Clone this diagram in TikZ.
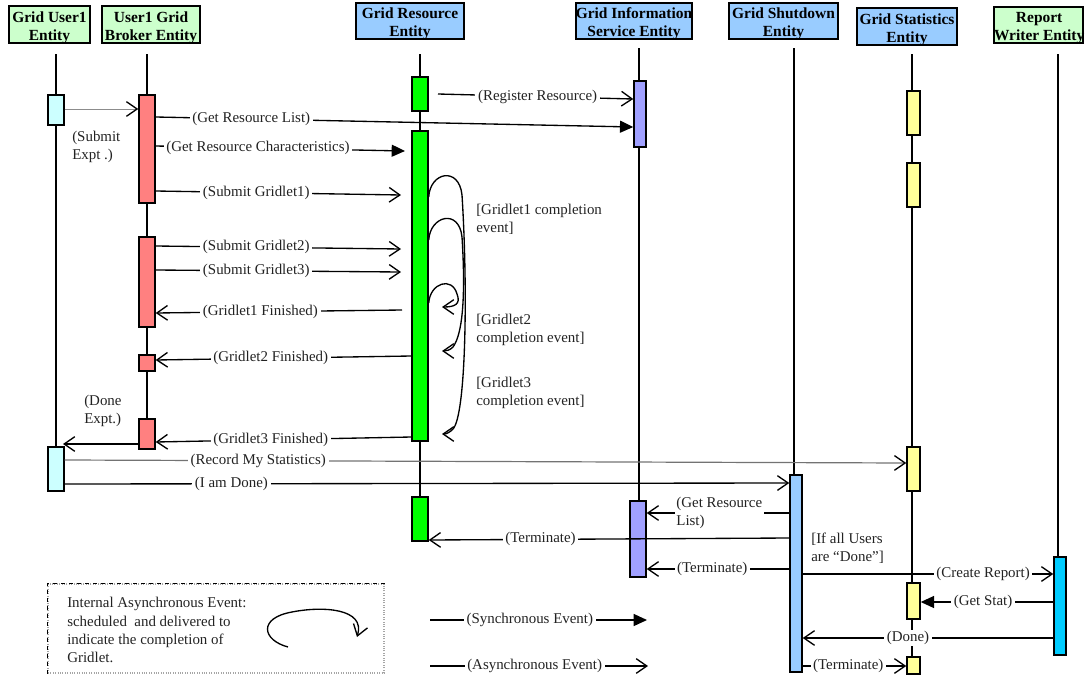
\documentclass[tikz,border=0pt]{standalone}
\usepackage{fontspec}
\setmainfont{Liberation Serif}
\usetikzlibrary{arrows.meta,calc}
\definecolor{hdrgreen}{HTML}{CCFFCC}
\definecolor{hdrblue}{HTML}{99CCFF}
\definecolor{actuser}{HTML}{CCFFFF}
\definecolor{actbroker}{HTML}{FF8080}
\definecolor{actres}{HTML}{00FF00}
\definecolor{actgis}{HTML}{A0A0FF}
\definecolor{actshut}{HTML}{99CCFF}
\definecolor{actstat}{HTML}{FFFF99}
\definecolor{actrep}{HTML}{00CCFF}
\definecolor{txtgray}{HTML}{222222}
\pgfdeclarelayer{bg}
\pgfsetlayers{bg,main}
\begin{document}
\begin{tikzpicture}[x=0.75pt,y=-0.75pt,
  hdr/.style={draw, line width=1.4pt, inner sep=0pt},
  hdrtxt/.style={inner sep=0pt, align=center, font=\fontsize{11.6}{13.5}\selectfont\bfseries},
  act/.style={draw, line width=1.1pt, inner sep=0pt},
  life/.style={line width=1.1pt},
  msg/.style={line width=1pt},
  async/.style={msg, -{Straight Barb[length=8pt,width=11pt,line width=1pt]}},
  sync/.style={msg, -{Triangle[length=10pt,width=9pt]}},
  lab/.style={fill=white, inner xsep=2pt, inner ysep=1pt, text=txtgray, font=\fontsize{11.2}{13}\selectfont},
  txt/.style={inner sep=0pt, text=txtgray, align=left, font=\fontsize{11.2}{13.5}\selectfont},
]
\useasboundingbox (0,0) rectangle (1085,675);

% headers
\node[hdr, fill=hdrgreen, minimum width=60.75pt, minimum height=27.75pt] (h1) at (49.5,24.5) {};
\node[hdr, fill=hdrgreen, minimum width=73.5pt, minimum height=27.75pt] (h2) at (151,24.5) {};
\node[hdr, fill=hdrblue, minimum width=81pt, minimum height=27pt] (h3) at (410,21) {};
\node[hdr, fill=hdrblue, minimum width=87pt, minimum height=27pt] (h4) at (634,21) {};
\node[hdr, fill=hdrblue, minimum width=81.75pt, minimum height=27pt] (h5) at (783.5,21) {};
\node[hdr, fill=hdrblue, minimum width=75pt, minimum height=27.75pt] (h6) at (907,26.5) {};
\node[hdr, fill=hdrgreen, minimum width=66.75pt, minimum height=27pt] (h7) at (1038.5,25) {};
\node[hdrtxt] (h1t) at ([yshift=-2.6pt]h1.center) {Grid User1\\Entity};
\node[hdrtxt] (h2t) at ([yshift=-2.6pt]h2.center) {User1 Grid\\Broker Entity};
\node[hdrtxt] (h3t) at ([yshift=-1.8pt]h3.center) {Grid Resource\\Entity};
\node[hdrtxt] (h4t) at ([yshift=-1.8pt]h4.center) {Grid Information\\Service Entity};
\node[hdrtxt] (h5t) at ([yshift=-1.8pt]h5.center) {Grid Shutdown\\Entity};
\node[hdrtxt] (h6t) at ([yshift=-2.6pt]h6.center) {Grid Statistics\\Entity};
\node[hdrtxt] (h7t) at ([yshift=-2.6pt,xshift=0.5pt]h7.center) {Report\\Writer Entity};

% activations
\node[act, fill=actuser, minimum width=12pt, minimum height=22.5pt] (a1) at (56,110) {};
\node[act, fill=actuser, minimum width=12pt, minimum height=33pt] (a2) at (56,469) {};
\node[act, fill=actbroker, minimum width=12pt, minimum height=81pt] (b1) at (147,149) {};
\node[act, fill=actbroker, minimum width=12pt, minimum height=67.5pt] (b2) at (147,282) {};
\node[act, fill=actbroker, minimum width=12pt, minimum height=12pt] (b3) at (147,363) {};
\node[act, fill=actbroker, minimum width=12pt, minimum height=22.5pt] (b4) at (147,434) {};
\node[act, fill=actres, minimum width=12pt, minimum height=25.5pt] (r1) at (420,94) {};
\node[act, fill=actres, minimum width=12pt, minimum height=232.5pt] (r2) at (420,286) {};
\node[act, fill=actres, minimum width=12pt, minimum height=33pt] (r3) at (420,519) {};
\node[act, fill=actgis, minimum width=9pt, minimum height=49.5pt] (g1) at (640,114) {};
\node[act, fill=actgis, minimum width=12pt, minimum height=57pt] (g2) at (638,539) {};
\node[act, fill=actshut, minimum width=9pt, minimum height=147.75pt] (s1) at (796,573.5) {};
\node[act, fill=actstat, minimum width=9.75pt, minimum height=33pt] (t1) at (913.5,113) {};
\node[act, fill=actstat, minimum width=9.75pt, minimum height=33pt] (t2) at (913.5,185) {};
\node[act, fill=actstat, minimum width=9.75pt, minimum height=33pt] (t3) at (913.5,469) {};
\node[act, fill=actstat, minimum width=9.75pt, minimum height=27pt] (t4) at (913.5,601) {};
\node[act, fill=actstat, minimum width=9.75pt, minimum height=12.75pt] (t5) at (913.5,665.5) {};
\node[act, fill=actrep, minimum width=9pt, minimum height=73.5pt] (w1) at (1060,606) {};

% lifelines
\coordinate (l1) at (56,54);
\coordinate (l2) at (147,54);
\coordinate (l3) at (420,54);
\coordinate (l4) at (639,48);
\coordinate (l5) at (794,48);
\coordinate (l6) at (912,54);
\coordinate (l7) at (1058,54);
\begin{pgfonlayer}{bg}
\draw[life] (l1) -- (l1 |- a2.south);
\draw[life] (l2) -- (l2 |- b4.south);
\draw[life] (l3) -- (l3 |- r3.south);
\draw[life] (l4) -- (l4 |- g2.south);
\draw[life] (l5) -- (l5 |- s1.south);
\draw[life] (l6) -- (l6 |- t5.south);
\draw[life] (l7) -- (l7 |- w1.south);
\end{pgfonlayer}

% free ends
\coordinate (grcEnd) at (405,151);
\coordinate (sg1End) at (401,195);
\coordinate (sg2End) at (401,249);
\coordinate (sg3End) at (401,272);
\coordinate (gf1Start) at (402,310);
\coordinate (rrStart) at (438,94);
\coordinate (deEnd) at (63,444);

% messages
\draw[black!45, line width=0.7pt, -{Straight Barb[length=8pt,width=11pt,line width=1pt,color=black]}] (a1.east |- 0,109) -- (b1.west |- 0,109);
\node[txt, anchor=west] (lsub) at (72,147) {(Submit\\Expt .)};
\draw[sync] (b1.east |- 0,117) -- node[lab,pos=0.2]{(Get Resource List)} (g1.west |- 0,127);
\draw[sync] (b1.east |- 0,146) -- node[lab,pos=0.41]{(Get Resource Characteristics)} (grcEnd);
\draw[async] (b1.east |- 0,191) -- node[lab,pos=0.41]{(Submit Gridlet1)} (sg1End);
\draw[async] (b2.east |- 0,246) -- node[lab,pos=0.41]{(Submit Gridlet2)} (sg2End);
\draw[async] (b2.east |- 0,270) -- node[lab,pos=0.41]{(Submit Gridlet3)} (sg3End);
\draw[async] (gf1Start) -- node[lab,pos=0.575]{(Gridlet1 Finished)} (b2.east |- 0,313);
\draw[async] (r2.west |- 0,356) -- node[lab,pos=0.55]{(Gridlet2 Finished)} (b3.east |- 0,360);
\draw[async] (r2.west |- 0,437) -- node[lab,pos=0.55]{(Gridlet3 Finished)} (b4.east |- 0,442);
\draw[async] (b4.west |- 0,444) -- (deEnd);
\node[txt, anchor=west] (ldone) at (84,411) {(Done\\Expt.)};
\draw[async] (rrStart) -- node[lab,pos=0.51]{(Register Resource)} (g1.west |- 0,99);
\draw[black!55, line width=0.9pt, -{Straight Barb[length=8pt,width=11pt,line width=1pt,color=black]}] (a2.east |- 0,460) -- node[lab,pos=0.23]{(Record My Statistics)} (t3.west |- 0,463);
\draw[async] (a2.east |- 0,484) -- node[lab,pos=0.23]{(I am Done)} (s1.west |- 0,483);
\draw[async] (s1.west |- 0,513) -- node[lab,anchor=west,align=left,pos=0.806,inner xsep=1pt]{(Get Resource\\List)} (g2.east |- 0,513);
\draw[async] (s1.west |- 0,538) -- node[lab,pos=0.69]{(Terminate)} (r3.east |- 0,540);
\draw[async] (s1.west |- 0,569) -- node[lab,pos=0.54]{(Terminate)} (g2.east |- 0,569);
\node[txt, anchor=west] (lif) at (811,548) {[If all Users\\are “Done”]};
\draw[async] (s1.east |- 0,574) -- node[lab,pos=0.72]{(Create Report)} (w1.west |- 0,574);
\draw[sync] (w1.west |- 0,602) -- node[lab,pos=0.53]{(Get Stat)} (t4.east |- 0,602);
\draw[async] (w1.west |- 0,638) -- node[lab,pos=0.58]{(Done)} (s1.east |- 0,638);
\draw[async] (s1.east |- 0,666) -- node[lab,pos=0.44]{(Terminate)} (t5.west |- 0,666);

% internal completion events
\draw[async] (r2.east |- 0,197) .. controls (430,172) and (459,166) .. (462,195) .. controls (468,290) and (466,415) .. (453,429) .. controls (450,432) and (447,434) .. (442,434);
\draw[async] (r2.east |- 0,240) .. controls (430,216) and (459,208) .. (462,237) .. controls (466,300) and (462,335) .. (453,347) .. controls (450,350) and (447,351) .. (442,351);
\draw[async] (r2.east |- 0,303) .. controls (430,283) and (452,276) .. (457,294) .. controls (461,304) and (455,307) .. (442,307);
\node[txt, anchor=west] (lc1) at (476,219.5) {[Gridlet1 completion\\event]};
\node[txt, anchor=west] (lc2) at (476,329.5) {[Gridlet2\\completion event]};
\node[txt, anchor=west] (lc3) at (476,393) {[Gridlet3\\completion event]};

% legend
\node[draw=gray!70, densely dotted, line width=0.8pt, minimum width=252pt, minimum height=66.75pt, inner sep=0pt] (legend) at (216,628.5) {};
\draw[dashed, line width=1pt] (legend.south west) -- (legend.north west) -- (legend.north east);
\node[txt, anchor=west, font=\fontsize{11.2}{13.6}\selectfont] (legtxt) at (67,630) {Internal Asynchronous Event:\\scheduled\ \ and delivered to\\indicate the completion of\\Gridlet.};
\coordinate (ic0) at (288,647);
\coordinate (ic1) at (357,637);
\draw[async] (ic0) .. controls (262,640) and (258,618) .. (292,612) .. controls (322,606) and (366,608) .. (ic1);
\coordinate (sy0) at (430,620);
\coordinate (sy1) at (647,620);
\draw[sync] (sy0) -- node[lab,pos=0.46]{(Synchronous Event)} (sy1);
\coordinate (as0) at (430,666);
\coordinate (as1) at (648,666);
\draw[async] (as0) -- node[lab,pos=0.48]{(Asynchronous Event)} (as1);
\end{tikzpicture}
\end{document}
